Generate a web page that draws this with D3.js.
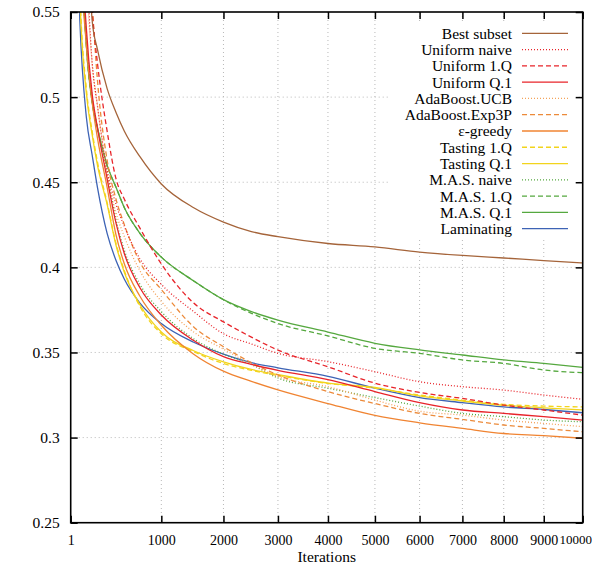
<!DOCTYPE html>
<html><head><meta charset="utf-8">
<script src="https://cdn.jsdelivr.net/npm/d3@7"></script>
<style>
body{margin:0;background:#fff}
svg{display:block}
svg text{font-family:"Liberation Serif","Times New Roman","DejaVu Serif",serif !important;}
</style>
</head><body>
<svg id="chart" width="592" height="566"></svg>
<script>
const iterations = [30, 50, 100, 150, 200, 300, 400, 500, 700, 1000, 1500, 2000, 2500, 3000, 4000, 5000, 6000, 7000, 8000, 9000, 10000];
const xTicks = [1, 1000, 2000, 3000, 4000, 5000, 6000, 7000, 8000, 9000, 10000];
const yTicks = [0.25, 0.3, 0.35, 0.4, 0.45, 0.5, 0.55];

const bestSubset   = [0.85, 0.75, 0.62, 0.545, 0.528, 0.505, 0.491, 0.480, 0.465, 0.449, 0.435, 0.4266, 0.421, 0.418, 0.414, 0.412, 0.409, 0.407, 0.4055, 0.404, 0.4026];
const uniformNaive = [0.78, 0.66, 0.58, 0.52, 0.495, 0.457, 0.437, 0.424, 0.405, 0.390, 0.374, 0.361, 0.355, 0.3495, 0.3446, 0.3387, 0.3328, 0.3299, 0.3279, 0.325, 0.3225];
const uniform1Q    = [0.82, 0.70, 0.60, 0.55, 0.52, 0.48, 0.452, 0.44, 0.423, 0.402, 0.379, 0.368, 0.359, 0.3514, 0.3416, 0.332, 0.3265, 0.323, 0.3191, 0.3162, 0.3132];
const uniformQ1    = [0.72, 0.62, 0.54, 0.502, 0.482, 0.452, 0.426, 0.408, 0.388, 0.372, 0.357, 0.3475, 0.343, 0.3395, 0.334, 0.327, 0.3205, 0.3162, 0.3142, 0.3123, 0.3103];
const adaUCB       = [0.76, 0.65, 0.57, 0.52, 0.495, 0.455, 0.432, 0.418, 0.398, 0.38, 0.362, 0.352, 0.343, 0.3358, 0.3299, 0.322, 0.3155, 0.3132, 0.3103, 0.3083, 0.3064];
const adaExp3P     = [0.82, 0.70, 0.61, 0.555, 0.51, 0.463, 0.44, 0.425, 0.403, 0.387, 0.365, 0.3534, 0.344, 0.3368, 0.327, 0.320, 0.3142, 0.3107, 0.3074, 0.3054, 0.3034];
const epsGreedy    = [0.70, 0.60, 0.53, 0.497, 0.476, 0.447, 0.419, 0.402, 0.383, 0.366, 0.349, 0.339, 0.333, 0.328, 0.320, 0.313, 0.3087, 0.3054, 0.3024, 0.3012, 0.2996];
const tasting1Q    = [0.64, 0.565, 0.505, 0.48, 0.462, 0.438, 0.414, 0.398, 0.377, 0.361, 0.3505, 0.3435, 0.3395, 0.3365, 0.3318, 0.329, 0.325, 0.322, 0.3195, 0.3185, 0.318];
const tastingQ1    = [0.63, 0.56, 0.502, 0.478, 0.46, 0.437, 0.413, 0.397, 0.378, 0.362, 0.351, 0.3445, 0.340, 0.337, 0.332, 0.3295, 0.3245, 0.3215, 0.319, 0.3175, 0.3162];
const masNaive     = [0.70, 0.60, 0.535, 0.50, 0.482, 0.455, 0.428, 0.41, 0.39, 0.374, 0.358, 0.349, 0.343, 0.335, 0.329, 0.3235, 0.3185, 0.3142, 0.3123, 0.3103, 0.3093];
const mas1Q        = [0.72, 0.62, 0.53, 0.497, 0.482, 0.46, 0.447, 0.435, 0.42, 0.406, 0.392, 0.381, 0.373, 0.367, 0.3597, 0.3524, 0.3495, 0.3456, 0.3436, 0.3397, 0.3381];
const masQ1        = [0.72, 0.62, 0.53, 0.497, 0.482, 0.46, 0.447, 0.435, 0.42, 0.406, 0.392, 0.381, 0.374, 0.369, 0.362, 0.3554, 0.3515, 0.3485, 0.3456, 0.3436, 0.3413];
const laminating   = [0.60, 0.545, 0.488, 0.466, 0.447, 0.420, 0.404, 0.393, 0.379, 0.367, 0.356, 0.349, 0.344, 0.341, 0.336, 0.329, 0.3235, 0.3205, 0.318, 0.3165, 0.3146];

const seriesNames = ["Best subset","Uniform naive","Uniform 1.Q","Uniform Q.1","AdaBoost.UCB","AdaBoost.Exp3P","\u03b5-greedy","Tasting 1.Q","Tasting Q.1","M.A.S. naive","M.A.S. 1.Q","M.A.S. Q.1","Laminating"];
const seriesValues = [bestSubset, uniformNaive, uniform1Q, uniformQ1, adaUCB, adaExp3P, epsGreedy, tasting1Q, tastingQ1, masNaive, mas1Q, masQ1, laminating];
const seriesColors = ["#a5643a","#e8242a","#e8242a","#e8242a","#f4a35a","#ec8a3a","#f08432","#f2d41c","#f2d41c","#55a83f","#55a83f","#55a83f","#3d63b5"];
const seriesDash   = ["none","1,2","5,3","none","1,2","5,3","none","5,3","none","1,2","5,3","none","none"];

const FONT = "'Liberation Serif','Times New Roman','DejaVu Serif',serif";
const FS = 15.5;
const FSX = 14;
const L = 70.7, R = 582.7, T = 12, B = 522.7;
const svg = d3.select("#chart").style("font-family", FONT);

const x = d3.scalePow().exponent(0.75).domain([1, 10000]).range([L, R]);
const y = d3.scaleLinear().domain([0.25, 0.55]).range([B, T]);

const grid = svg.append("g");
grid.selectAll("line.gx").data(xTicks.filter(d => d > 1 && d < 10000)).enter().append("line")
  .attr("x1", d => x(d)).attr("x2", d => x(d)).attr("y1", T).attr("y2", B)
  .attr("stroke", "#b8b8b8").attr("stroke-width", 1).attr("stroke-dasharray", "1,3");
grid.selectAll("line.gy").data(yTicks.filter(d => d > 0.26 && d < 0.54)).enter().append("line")
  .attr("x1", L).attr("x2", R).attr("y1", d => y(d)).attr("y2", d => y(d))
  .attr("stroke", "#b8b8b8").attr("stroke-width", 1).attr("stroke-dasharray", "1,3");

svg.append("defs").append("clipPath").attr("id", "clip")
  .append("rect").attr("x", L).attr("y", T).attr("width", R - L).attr("height", B - T);

// opaque key background
svg.append("rect").attr("x", 390).attr("y", 24).attr("width", 186).attr("height", 214).attr("fill", "#fff");

const line = d3.line().x(d => x(d[0])).y(d => y(d[1])).curve(d3.curveMonotoneX);
const plot = svg.append("g").attr("clip-path", "url(#clip)");
for (let i = seriesValues.length - 1; i >= 0; i--) {
  const pts = iterations.map((it, j) => [it, seriesValues[i][j]]);
  plot.append("path").attr("d", line(pts)).attr("fill", "none")
    .attr("stroke", seriesColors[i]).attr("stroke-width", 1.3)
    .attr("stroke-dasharray", seriesDash[i]);
}

const fmtY = d => String(+d.toFixed(2));
const axB = svg.append("g").attr("transform", `translate(0,${B})`)
  .call(d3.axisBottom(x).tickValues(xTicks).tickSize(-7).tickPadding(12).tickFormat(d3.format("d")));
const axT = svg.append("g").attr("transform", `translate(0,${T})`)
  .call(d3.axisTop(x).tickValues(xTicks).tickSize(-7).tickFormat(""));
const axL = svg.append("g").attr("transform", `translate(${L},0)`)
  .call(d3.axisLeft(y).tickValues(yTicks).tickSize(-7).tickPadding(11).tickFormat(fmtY));
const axR = svg.append("g").attr("transform", `translate(${R},0)`)
  .call(d3.axisRight(y).tickValues(yTicks).tickSize(-7).tickFormat(""));
[axB, axT, axL, axR].forEach(a => {
  a.attr("font-family", FONT).attr("font-size", FS);
  a.selectAll(".domain").remove();
  a.selectAll(".tick line").attr("stroke", "#000").attr("stroke-width", 1.5);
  a.selectAll("text").style("font-family", FONT).attr("font-size", FS).attr("fill", "#000");
});
axB.selectAll(".tick text").attr("font-size", FSX);
// keep the last x label inside the window without touching "9000"
axB.selectAll(".tick text").filter(d => d === 10000)
  .attr("text-anchor", "end").attr("font-size", 13).attr("x", 591.5 - x(10000));

svg.append("rect").attr("x", L).attr("y", T).attr("width", R - L).attr("height", B - T)
  .attr("fill", "none").attr("stroke", "#000").attr("stroke-width", 1.6);

svg.append("text").attr("x", (L + R) / 2).attr("y", 562).attr("text-anchor", "middle")
  .style("font-family", FONT).attr("font-size", FS).text("Iterations");

const leg = svg.append("g");
seriesNames.forEach((name, i) => {
  const yy = 33.3 + i * 16.28;
  leg.append("text").attr("x", 512).attr("y", yy).attr("dy", "0.35em").attr("text-anchor", "end")
    .style("font-family", FONT).attr("font-size", FS).attr("fill", "#000").text(name);
  leg.append("line").attr("x1", 522).attr("x2", 568).attr("y1", yy).attr("y2", yy)
    .attr("stroke", seriesColors[i]).attr("stroke-width", 1.3).attr("stroke-dasharray", seriesDash[i]);
});
</script>
</body></html>
